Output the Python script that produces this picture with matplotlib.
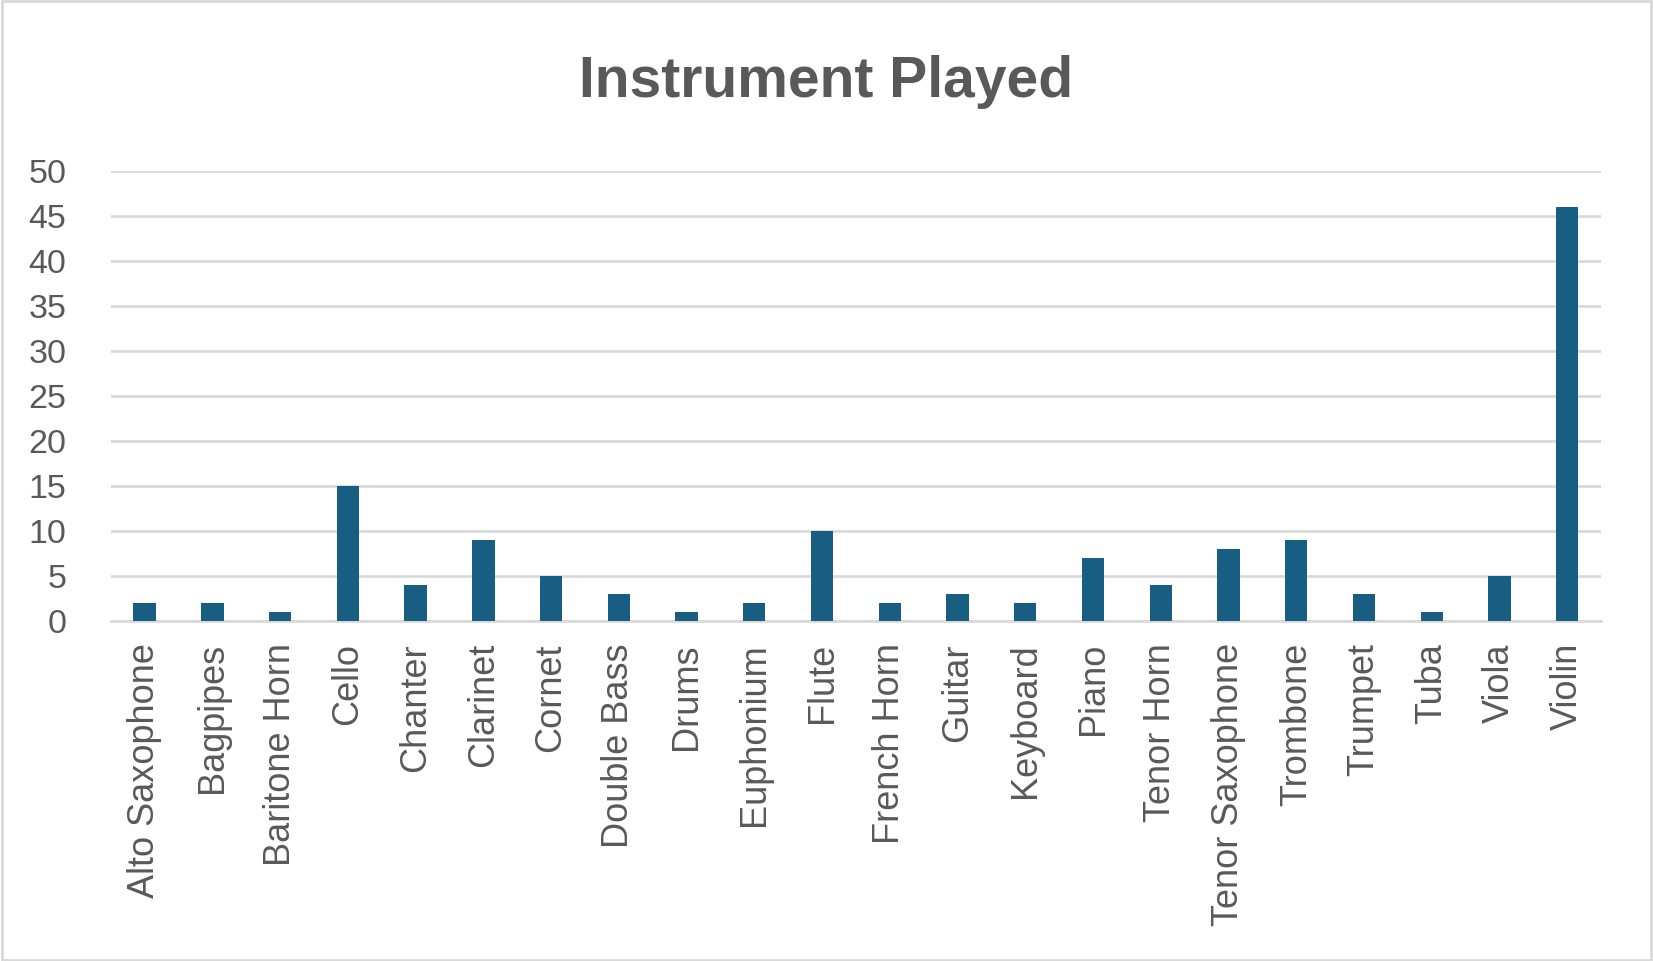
import matplotlib
matplotlib.use('Agg')
import matplotlib.pyplot as plt
from matplotlib.patches import Rectangle

## data
instruments = ['Alto Saxophone', 'Bagpipes', 'Baritone Horn', 'Cello', 'Chanter',
               'Clarinet', 'Cornet', 'Double Bass', 'Drums', 'Euphonium', 'Flute',
               'French Horn', 'Guitar', 'Keyboard', 'Piano', 'Tenor Horn',
               'Tenor Saxophone', 'Trombone', 'Trumpet', 'Tuba', 'Viola', 'Violin']
counts = [2, 2, 1, 15, 4, 9, 5, 3, 1, 2, 10, 2, 3, 2, 7, 4, 8, 9, 3, 1, 5, 46]
yticks = [0, 5, 10, 15, 20, 25, 30, 35, 40, 45, 50]

bar_clr = '#175E82'
txt_clr = '#595959'
grid_clr = '#D9D9D9'

plt.rcParams['font.family'] = ['Liberation Sans', 'DejaVu Sans']

fig = plt.figure(figsize=(16.53, 9.61), dpi=100)
ax = fig.add_axes([0.067, 0.354, 0.9016, 0.468])

x = list(range(len(instruments)))
ax.bar(x, counts, width=0.33, color=bar_clr, zorder=3)

ax.set_xlim(-0.5, len(instruments) - 0.5)
ax.set_ylim(0, 50)
ax.set_yticks(yticks)
ax.set_xticks(x)
ax.set_xticklabels(instruments, rotation=90, fontsize=26, color=txt_clr)
ax.tick_params(axis='y', labelsize=24.5, labelcolor=txt_clr, length=0, pad=32)
ax.tick_params(axis='x', length=0, pad=16)

ax.grid(axis='y', color=grid_clr, linewidth=2)
ax.set_axisbelow(True)
for sp in ['top', 'right', 'left']:
    ax.spines[sp].set_visible(False)
ax.spines['bottom'].set_color(grid_clr)
ax.spines['bottom'].set_linewidth(2)

fig.text(0.5, 0.915, 'Instrument Played', ha='center', va='center',
         fontsize=41, fontweight='bold', color=txt_clr,
         family=['Liberation Sans Narrow', 'Liberation Sans', 'DejaVu Sans'])

## light frame round the whole chart
fig.patches.append(Rectangle((0.001, 0.001), 0.998, 0.998, transform=fig.transFigure,
                             fill=False, edgecolor=grid_clr, linewidth=2))

fig.savefig('out.png', dpi=100)
